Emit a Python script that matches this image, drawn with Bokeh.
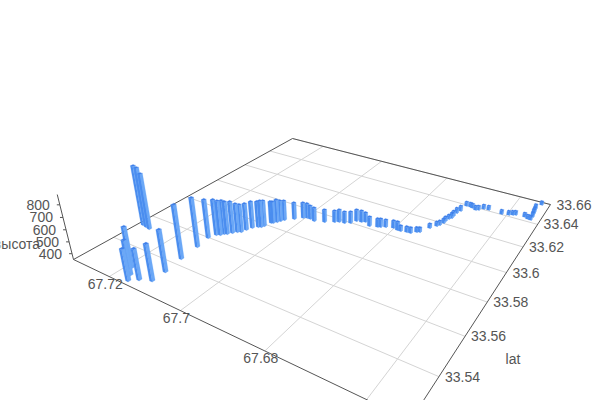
from bokeh.plotting import figure, ColumnDataSource
from bokeh.embed import file_html
from bokeh.resources import INLINE
from bokeh.core.properties import value

# track points
lon = [67.7157,67.7169,67.7187,67.7141,67.7116,67.7117,67.7124,67.7128,67.7301,67.7288,67.7275,
       67.7134,67.7127,67.7119,67.7115,67.7109,67.7102,67.7095,67.7088,67.7084,67.7078,67.7069,67.7063,
       67.7060,67.7055,67.7051,67.7046,67.7042,67.7037,67.7020,67.7005,67.6997,67.6988,67.6975,67.6952,
       67.6932,67.6923,67.6910,67.6898,67.6891,67.6879,67.6871,67.6854,67.6836,67.6830,67.6820,67.6803,
       67.6791,67.6783,67.6769,67.6760,67.6750,67.6744,67.6732,67.6722,67.6718,67.6714,67.6714,67.6711,
       67.6707,67.6707,67.6706,67.6702,67.6699,67.6689,67.6683,67.6673,67.6667,67.6658,67.6646,67.6613,
       67.6597,67.6589,67.6583,67.6562,67.6553,67.6546,67.6546,67.6548,67.6549,67.6551,67.6544]
lat = [33.5237,33.5265,33.5297,33.5262,33.5282,33.5346,33.5437,33.5529,33.5531,33.5527,33.5522,
       33.5600,33.5634,33.5642,33.5657,33.5663,33.5680,33.5696,33.5705,33.5728,33.5753,33.5772,33.5778,
       33.5791,33.5826,33.5830,33.5845,33.5859,33.5874,33.5903,33.5930,33.5939,33.5939,33.5934,33.5950,
       33.5972,33.5983,33.5987,33.6001,33.6028,33.6032,33.6041,33.6022,33.6033,33.6039,33.6050,33.6061,
       33.6055,33.6055,33.6061,33.6063,33.6083,33.6089,33.6139,33.6169,33.6183,33.6207,33.6227,33.6249,
       33.6263,33.6283,33.6314,33.6340,33.6395,33.6396,33.6392,33.6382,33.6389,33.6409,33.6412,33.6408,
       33.6416,33.6425,33.6432,33.6436,33.6426,33.6424,33.6454,33.6482,33.6501,33.6530,33.6580]
alt = [610,636,687,602,649,693,796,765,867,865,830,
       681,657,648,641,632,624,599,590,582,583,575,584,
       575,541,541,550,533,524,497,489,480,470,469,460,
       451,460,451,451,451,451,433,432,423,423,414,414,
       423,396,396,396,388,388,386,386,386,386,386,384,
       394,394,394,394,386,386,386,386,386,386,386,384,
       384,384,384,384,384,384,390,390,390,390,380]

lon_ticks = [67.72, 67.70, 67.68]
lon_labels = ["67.72", "67.7", "67.68"]
lon_grid_extra = [67.66]
lat_ticks = [33.54, 33.56, 33.58, 33.60, 33.62, 33.64, 33.66]
lat_labels = ["33.54", "33.56", "33.58", "33.6", "33.62", "33.64", "33.66"]
alt_ticks = [400, 500, 600, 700, 800]
alt_labels = ["400", "500", "600", "700", "800"]

LON_MAX, LON_MIN = 67.7314, 67.6525
LAT_MIN, LAT_MAX = 33.5216, 33.6600
ALT_MIN, ALT_MAX = 350, 880

# Camera: projective map of the (lon, lat, altitude) box on to the picture
A, B, C = 215.2, 355.5, 73.0
D, E, F = 36.3, -56.5, 259.0
G, H = -0.29700, 0.46737
VX, VY, VT = 344.0, 1342.0, -0.0566

def project(lo, la, al):
    u = (LON_MAX - lo) / (LON_MAX - LON_MIN)
    v = (la - LAT_MIN) / (LAT_MAX - LAT_MIN)
    t = VT * (al - ALT_MIN) / (ALT_MAX - ALT_MIN)
    w = G * u + H * v + 1 + t
    return (A * u + B * v + C + t * VX) / w, (D * u + E * v + F + t * VY) / w

GRID = "#d4d4d4"
AXIS = "#555555"
TEXT = "#555555"
FONT = value("Liberation Sans")
SIZE = "14px"

p = figure(width=600, height=400, x_range=(0, 600), y_range=(400, 0),
           output_backend="svg", toolbar_location=None, min_border=0)
p.axis.visible = False
p.grid.visible = False
p.outline_line_color = None

# floor grid
for t in lon_ticks + lon_grid_extra:
    a, b = project(t, LAT_MIN, ALT_MIN), project(t, LAT_MAX, ALT_MIN)
    p.line([a[0], b[0]], [a[1], b[1]], line_color=GRID, line_width=1)
for t in lat_ticks:
    a, b = project(LON_MAX, t, ALT_MIN), project(LON_MIN, t, ALT_MIN)
    p.line([a[0], b[0]], [a[1], b[1]], line_color=GRID, line_width=1)

# box edges
corners = [(LON_MAX, LAT_MAX), (LON_MAX, LAT_MIN), (LON_MIN, LAT_MIN), (LON_MIN, LAT_MAX), (LON_MAX, LAT_MAX)]
pts = [project(c[0], c[1], ALT_MIN) for c in corners]
p.line([q[0] for q in pts], [q[1] for q in pts], line_color=AXIS, line_width=1)
a, b = project(LON_MAX, LAT_MIN, ALT_MIN), project(LON_MAX, LAT_MIN, ALT_MAX)
p.line([a[0], b[0]], [a[1], b[1]], line_color=AXIS, line_width=1)

# bars: three visible faces per bar, far to near
HU, HV = 0.0048 * (LON_MAX - LON_MIN), 0.0048 * (LAT_MAX - LAT_MIN)
order = sorted(range(len(lon)), key=lambda i: project(lon[i], lat[i], ALT_MIN)[1])
xs, ys, cs = [], [], []
for i in order:
    lo, la, al = lon[i], lat[i], alt[i]
    quads = [
        ((lo - HU, la - HV), (lo - HU, la + HV), "#6ba8f7"),
        ((lo + HU, la - HV), (lo - HU, la - HV), "#4a8def"),
    ]
    for c1, c2, col in quads:
        q = [project(c1[0], c1[1], ALT_MIN), project(c2[0], c2[1], ALT_MIN),
             project(c2[0], c2[1], al), project(c1[0], c1[1], al)]
        xs.append([r[0] for r in q]); ys.append([r[1] for r in q]); cs.append(col)
    q = [project(lo + HU, la - HV, al), project(lo - HU, la - HV, al),
         project(lo - HU, la + HV, al), project(lo + HU, la + HV, al)]
    xs.append([r[0] for r in q]); ys.append([r[1] for r in q]); cs.append("#3f80ea")
p.patches("xs", "ys", fill_color="cs", line_color="cs", line_width=0.2,
          source=ColumnDataSource(dict(xs=xs, ys=ys, cs=cs)))

# tick labels
q = [project(LON_MIN, t, ALT_MIN) for t in lat_ticks]
p.text([r[0] for r in q], [r[1] for r in q], text=lat_labels, text_align="left", text_baseline="middle",
       x_offset=6, text_font=FONT, text_font_size=SIZE, text_color=TEXT)
q = [project(t, LAT_MIN, ALT_MIN) for t in lon_ticks]
p.text([r[0] for r in q], [r[1] for r in q], text=lon_labels, text_align="center", text_baseline="middle",
       x_offset=-4, y_offset=7, text_font=FONT, text_font_size=SIZE, text_color=TEXT)
q = [project(LON_MAX, LAT_MIN, t) for t in alt_ticks]
p.text([r[0] for r in q], [r[1] for r in q], text=alt_labels, text_align="right", text_baseline="middle",
       x_offset=-10, text_font=FONT, text_font_size=SIZE, text_color=TEXT)
p.segment([r[0] for r in q], [r[1] for r in q], [r[0] - 3 for r in q], [r[1] for r in q],
          line_color=AXIS, line_width=1)

# axis names
n = project(LON_MIN, (33.54 + 33.56) / 2, ALT_MIN)
p.text([n[0]], [n[1]], text=["lat"], text_align="left", text_baseline="middle", x_offset=53, y_offset=3,
       text_font=FONT, text_font_size=SIZE, text_color=TEXT)
n = project(LON_MAX, LAT_MIN, 600)
p.text([n[0]], [n[1]], text=["высота"], text_align="right", text_baseline="middle", x_offset=-26, y_offset=14,
       text_font=FONT, text_font_size=SIZE, text_color=TEXT)

open("out.html", "w").write(file_html(p, INLINE))
